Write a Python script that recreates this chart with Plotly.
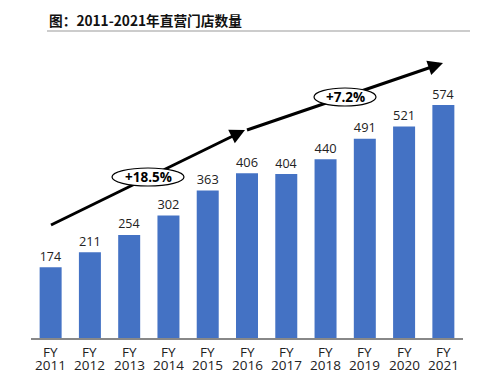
import math
import plotly.graph_objects as go

fiscal_years = ["2011", "2012", "2013", "2014", "2015", "2016", "2017", "2018", "2019", "2020", "2021"]
categories = ["FY " + y for y in fiscal_years]
stores = [174, 211, 254, 302, 363, 406, 404, 440, 491, 521, 574]
growth_labels = ["+18.5%", "+7.2%"]
title_text = "图：2011-2021年直营门店数量"

OFF = 8  # browser default body margin
W, H = 485 - OFF, 376 - OFF
L, R, T, B = 31 - OFF, 22, 40 - OFF, 38
PW, PH = W - L - R, H - T - B

def px(x):
    return (x - OFF - L) / PW

def py(y):
    return (H - B - (y - OFF)) / PH

FONT = "Open Sans, Noto Sans, sans-serif"

fig = go.Figure(go.Bar(
    x=categories, y=stores, width=0.56,
    marker=dict(color="#4472C4", line=dict(width=0)),
    text=[str(v) for v in stores], textposition="outside",
    textfont=dict(size=14.5, color="#222", family=FONT),
    cliponaxis=False,
))

def line_shape(x0, y0, x1, y1, color="#000", width=3):
    return dict(type="line", xref="paper", yref="paper", x0=px(x0), x1=px(x1), y0=py(y0), y1=py(y1),
                line=dict(color=color, width=width), layer="above")

def ellipse(x0, x1, y0, y1):
    return dict(type="circle", xref="paper", yref="paper", x0=px(x0), x1=px(x1), y0=py(y1), y1=py(y0),
                line=dict(color="#000", width=1.2), fillcolor="white", layer="above")

shapes = [
    line_shape(47, 31, 470, 31, color="#999999", width=1.2),
    line_shape(51, 225, 238, 133.5),
    line_shape(247, 130, 436, 65.5),
    ellipse(112, 184, 168, 186),
    ellipse(314, 376, 88, 106),
]

def arrowhead(x0, y0, x1, y1, tail=14):
    d = math.hypot(x1 - x0, y1 - y0)
    ux, uy = (x1 - x0) / d, (y1 - y0) / d
    return dict(x=px(x1), y=py(y1), xref="paper", yref="paper",
                ax=-ux * tail, ay=-uy * tail, axref="pixel", ayref="pixel",
                showarrow=True, arrowhead=2, arrowsize=1.0, arrowwidth=3, arrowcolor="#000", text="")

annotations = [
    dict(text="<b>" + title_text + "</b>", xref="paper", yref="paper", x=px(47), y=py(20),
         xanchor="left", yanchor="middle", showarrow=False, font=dict(size=13.7, color="#111", family="Noto Sans CJK SC")),
    arrowhead(51, 225, 245, 130),
    arrowhead(247, 130, 443, 63),
    dict(text="<b>" + growth_labels[0] + "</b>", xref="paper", yref="paper", x=px(148), y=py(177),
         xanchor="center", yanchor="middle",
         showarrow=False, font=dict(size=13.5, color="#000", family=FONT)),
    dict(text="<b>" + growth_labels[1] + "</b>", xref="paper", yref="paper", x=px(345), y=py(97),
         xanchor="center", yanchor="middle",
         showarrow=False, font=dict(size=13.5, color="#000", family=FONT)),
]
for cat, yr in zip(categories, fiscal_years):
    annotations.append(dict(text="FY", x=cat, xref="x", y=py(352), yref="paper", xanchor="center", yanchor="middle",
                            height=12, borderpad=0,
                            showarrow=False, font=dict(size=13.5, color="#222", family=FONT)))
    annotations.append(dict(text=yr, x=cat, xref="x", y=py(364.5), yref="paper", xanchor="center", yanchor="middle",
                            height=12, borderpad=0,
                            showarrow=False, font=dict(size=13.5, color="#222", family=FONT)))

fig.update_layout(
    width=W, height=H, margin=dict(l=L, r=R, t=T, b=B, autoexpand=False),
    plot_bgcolor="white", paper_bgcolor="white",
    showlegend=False,
    shapes=shapes, annotations=annotations,
    xaxis=dict(showline=True, linecolor="#888888", linewidth=1.5, ticks="", showgrid=False, automargin=False,
               showticklabels=False),
    yaxis=dict(range=[0, PH / 0.406], visible=False, showgrid=False, automargin=False),
)

fig.write_html("out.html")
